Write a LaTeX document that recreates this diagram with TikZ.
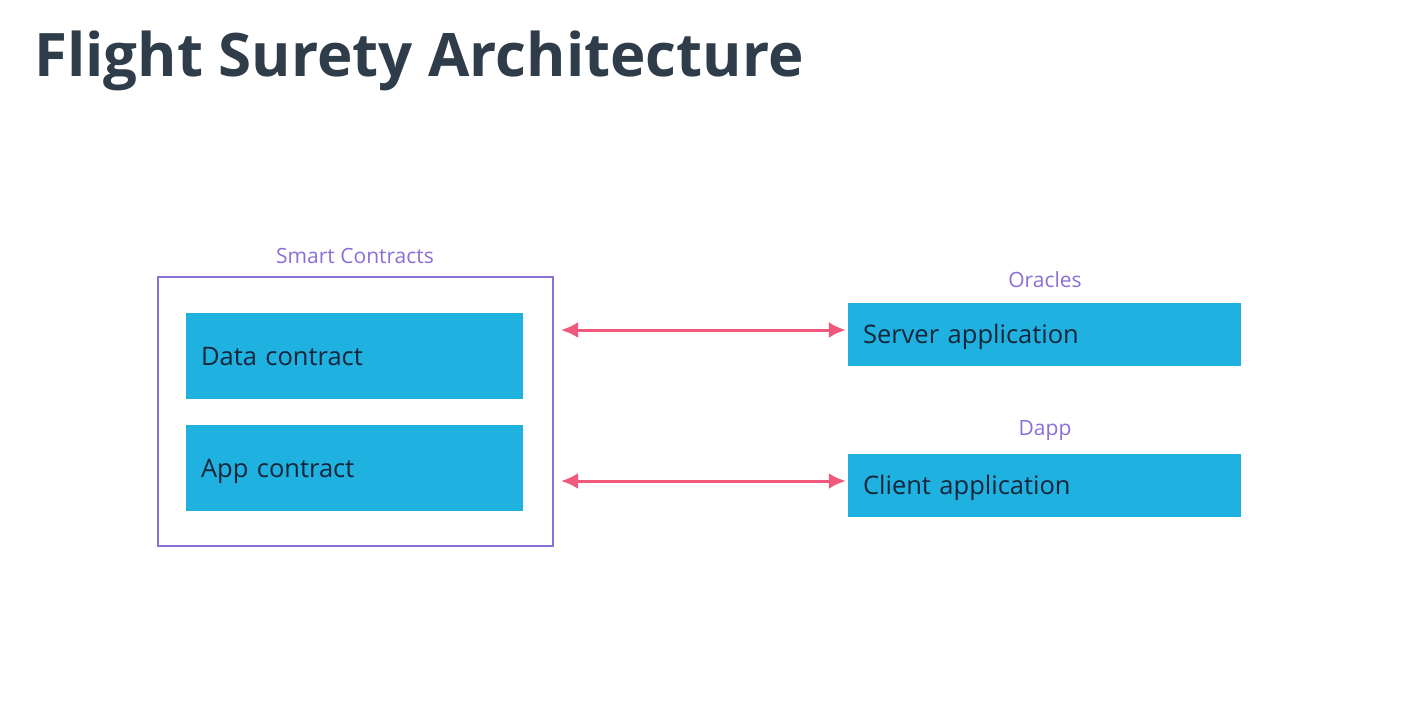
\documentclass[tikz,border=0pt]{standalone}
\usepackage{fontspec}
\setmainfont{Open Sans}
\usetikzlibrary{arrows.meta}

\definecolor{titlegray}{HTML}{2E3D49}
\definecolor{boxblue}{HTML}{1FB1E0}
\definecolor{boxtext}{HTML}{14253A}
\definecolor{groupviolet}{HTML}{8A6FD8}
\definecolor{linkpink}{HTML}{F0587C}

\tikzset{
  part/.style={fill=boxblue, text=boxtext, inner xsep=15pt, inner ysep=0pt,
    text height=18pt, text depth=0pt,
    align=left, font=\fontsize{25.5}{30}\selectfont},
  grouplabel/.style={text=groupviolet, font=\fontsize{21}{24}\selectfont},
  link/.style={<->, linkpink, line width=3pt}
}

\begin{document}
\begin{tikzpicture}[x=1pt,y=-1pt,>={Latex[length=17pt,width=16pt]}]
\useasboundingbox[fill=white] (0,0) rectangle (1406,728);

% Titel
\node[anchor=base west, inner sep=0pt, text=titlegray,
  font=\fontsize{60}{70}\selectfont\bfseries] (title) at (34,76) {Flight Surety Architecture};

% Smart Contracts links
\node[draw=groupviolet, line width=2pt, minimum width=395pt, minimum height=269pt] (contracts) at (355.5,411.5) {};
\node[grouplabel] (contractslabel) at (355,256) {Smart Contracts};
\node[part, text width=307pt, minimum height=86pt] (data) at (354.5,356) {Data contract};
\node[part, text width=307pt, minimum height=86pt] (app) at (354.5,468) {App contract};

% Oracles und Dapp rechts
\node[part, text width=363pt, minimum height=63pt] (server) at (1044.5,334.5) {Server application};
\node[grouplabel] (oracleslabel) at (1045,280) {Oracles};
\node[part, text width=363pt, minimum height=63pt] (client) at (1044.5,485.5) {Client application};
\node[grouplabel] (dapplabel) at (1045,431) {Dapp};

% Pfeile
\coordinate (serverend) at ([xshift=-2pt,yshift=4.5pt]server.west);
\coordinate (clientend) at ([xshift=-2pt,yshift=4.5pt]client.west);
\draw[link] ([xshift=7pt]contracts.east |- serverend) -- (serverend);
\draw[link] ([xshift=7pt]contracts.east |- clientend) -- (clientend);

\end{tikzpicture}
\end{document}
